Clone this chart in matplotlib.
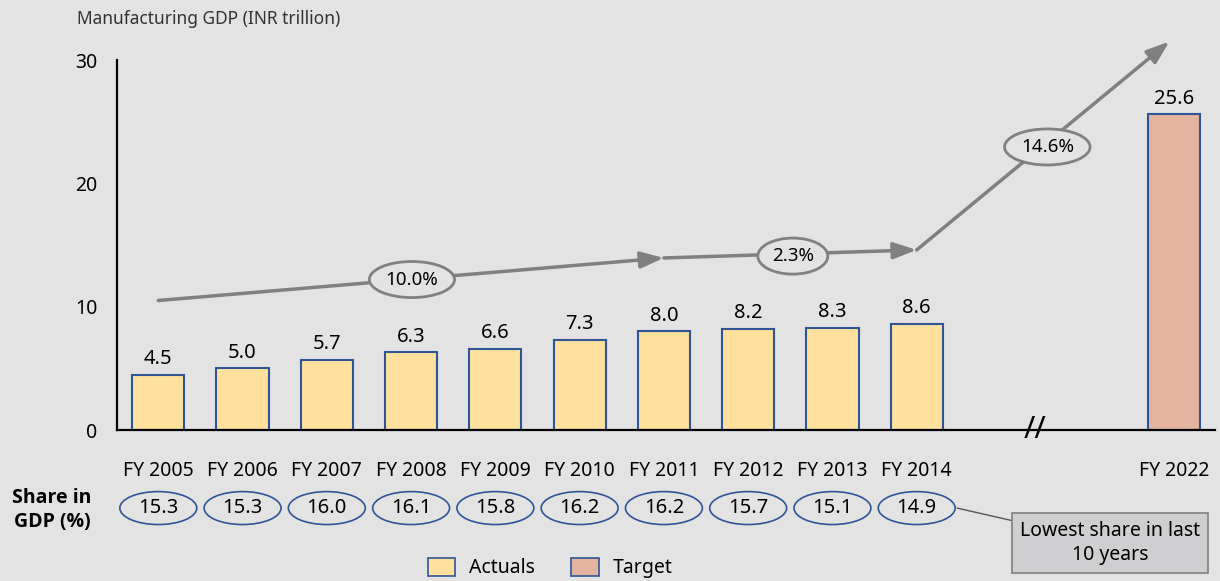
"""
Manufacturing GDP bar chart
"""
import matplotlib.pyplot as plt
import numpy as np
from matplotlib.patches import Ellipse, Patch
from matplotlib.transforms import blended_transform_factory

plt.rcParams['font.family'] = ['Noto Sans', 'DejaVu Sans']

years = ['FY 2005', 'FY 2006', 'FY 2007', 'FY 2008', 'FY 2009',
         'FY 2010', 'FY 2011', 'FY 2012', 'FY 2013', 'FY 2014']
gdp = [4.5, 5.0, 5.7, 6.3, 6.6, 7.3, 8.0, 8.2, 8.3, 8.6]
share = [15.3, 15.3, 16.0, 16.1, 15.8, 16.2, 16.2, 15.7, 15.1, 14.9]
target_year = 'FY 2022'
target_gdp = 25.6
# growth arrow: (x, y) turning points and CAGR labels
trend_x = [0, 6, 9, 12]
trend_y = [10.5, 13.95, 14.6, 31.5]
cagr = ['10.0%', '2.3%', '14.6%']

bg = '#e3e3e3'
yellow = '#ffe09c'
pink = '#e5b4a0'
edge = '#2f5597'
grey = '#808080'

fig = plt.figure(figsize=(12.2, 5.81), dpi=100, facecolor=bg)
ax = fig.add_axes([117 / 1220, 1 - 430 / 581, 1098 / 1220, 370 / 581])
ax.set_facecolor(bg)

x = np.arange(len(years))
xt = 12.05
ax.bar(x, gdp, width=0.62, color=yellow, edgecolor=edge, linewidth=1.5)
ax.bar([xt], [target_gdp], width=0.62, color=pink, edgecolor=edge, linewidth=1.5)
for xi, v in zip(list(x) + [xt], gdp + [target_gdp]):
    ax.annotate(f'{v:.1f}', (xi, v), xytext=(0, 4), textcoords='offset points',
                ha='center', va='bottom', fontsize=14.5)

ax.set_xlim(-0.49, 12.54)
ax.set_ylim(0, 30)
ax.set_yticks([0, 10, 20, 30])
ax.set_xticks(list(x) + [xt])
ax.set_xticklabels(years + [target_year])
ax.tick_params(axis='both', length=0, labelsize=14)
ax.tick_params(axis='x', pad=22)
ax.tick_params(axis='y', pad=14)
for s in ['top', 'right']:
    ax.spines[s].set_visible(False)
for s in ['left', 'bottom']:
    ax.spines[s].set_linewidth(1.6)
    ax.spines[s].set_color('black')

# trend arrows
for i in range(3):
    ax.annotate('', xy=(trend_x[i + 1], trend_y[i + 1]), xytext=(trend_x[i], trend_y[i]),
                arrowprops=dict(arrowstyle='-|>,head_length=1.4,head_width=0.5',
                                color=grey, lw=2.5, shrinkA=0, shrinkB=0),
                annotation_clip=False)
lab_pos = [(3.01, 12.2), (7.53, 14.1), (10.55, 22.95)]
for (lx, ly), t in zip(lab_pos, cagr):
    ax.text(lx, ly, t, ha='center', va='center', fontsize=13.5,
            bbox=dict(boxstyle='ellipse,pad=0.2', fc=bg, ec=grey, lw=2))

# axis break
ax.text(10.4, 0, '//', ha='center', va='center', fontsize=22, clip_on=False,
        fontweight='light')

# share in GDP ellipses
tr = blended_transform_factory(ax.transData, ax.transAxes)
for xi, s in zip(x, share):
    ax.add_patch(Ellipse((xi, -0.211), 0.913, 0.089, transform=tr, fc='none',
                         ec=edge, lw=1.2, clip_on=False))
    ax.text(xi, -0.211, f'{s:.1f}', transform=tr, ha='center', va='center', fontsize=14.5)
fig.text(52 / 1220, 1 - 510 / 581, 'Share in\nGDP (%)', ha='center', va='center',
         fontsize=14, fontweight='bold', linespacing=1.25,
         family=['Open Sans', 'DejaVu Sans'])

# callout
ax.annotate('Lowest share in last\n10 years', xy=(9.48, -0.211), xycoords=tr,
            xytext=(1110 / 1220, 1 - 543 / 581), textcoords='figure fraction',
            ha='center', va='center', fontsize=14, linespacing=1.3,
            bbox=dict(boxstyle='square,pad=0.4', fc='#cfcfd1', ec=grey, lw=1.2),
            arrowprops=dict(arrowstyle='-', color='#555555', lw=1, shrinkA=0, shrinkB=0),
            annotation_clip=False)

fig.text(77 / 1220, 1 - 19 / 581, 'Manufacturing GDP (INR trillion)', ha='left',
         va='center', fontsize=12.5, color='#333333')

handles = [Patch(fc=yellow, ec=edge, lw=1.2, label='Actuals'),
           Patch(fc=pink, ec=edge, lw=1.2, label='Target')]
fig.legend(handles=handles, loc='center', bbox_to_anchor=(550 / 1220, 1 - 568 / 581),
           ncol=2, frameon=False, fontsize=14, handlelength=1.4, handleheight=1.1,
           columnspacing=1.9, handletextpad=0.7)

plt.savefig('out.png', dpi=100, facecolor=bg)
